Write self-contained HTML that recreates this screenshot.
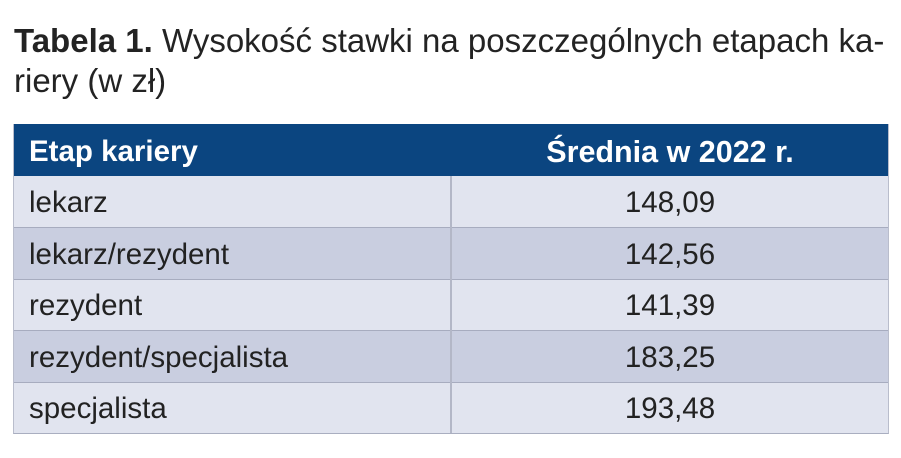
<!DOCTYPE html>
<html>
<head>
<meta charset="utf-8">
<style>
  html, body { margin:0; padding:0; background:#ffffff; }
  body { width:901px; height:458px; position:relative; overflow:hidden; font-family:"Liberation Sans", sans-serif; color:#222; }
  .title { position:absolute; left:14px; top:21px; width:885px; font-size:33px; line-height:40px; color:#232323; white-space:nowrap; }
  .title b { font-weight:bold; }
  .tbl { position:absolute; left:13px; top:124px; width:876px; height:310px; border-left:1px solid #b9bdcc; border-right:1px solid #b9bdcc; border-bottom:1px solid #a9aec0; box-sizing:border-box; }
  .hdr { position:absolute; left:13px; top:124px; width:876px; height:52px; background:#0b4580; }
  .row { position:absolute; left:13px; width:876px; box-sizing:border-box; }
  .c1, .c2 { position:absolute; top:0; height:100%; font-size:29.5px; white-space:nowrap; }
  .c1 { left:16px; }
  .c2 { left:438px; width:438px; text-align:center; }
  .hdr .c1, .hdr .c2 { color:#ffffff; font-weight:bold; line-height:52px; top:2px; }
  .hdr .c2 { font-size:30.5px; }
  .light { background:#e1e4ef; }
  .dark { background:#c9cee0; }
  .row .c1, .row .c2 { line-height:51.6px; top:1px; color:#222222; }
  .hline { position:absolute; left:13px; width:876px; height:1px; background:#a7acbf; }
  .vline { position:absolute; left:450px; top:176px; width:2px; height:258px; background:#b3b7c7; }
</style>
</head>
<body>
  <div class="title"><b>Tabela 1.</b> Wysokość stawki na poszczególnych etapach ka-<br>riery (w zł)</div>

  <div class="hdr"><div class="c1">Etap kariery</div><div class="c2">Średnia w 2022 r.</div></div>

  <div class="row light" style="top:176px;height:51.6px;"><div class="c1">lekarz</div><div class="c2">148,09</div></div>
  <div class="row dark" style="top:227.6px;height:51.6px;"><div class="c1">lekarz/rezydent</div><div class="c2">142,56</div></div>
  <div class="row light" style="top:279.2px;height:51.6px;"><div class="c1">rezydent</div><div class="c2">141,39</div></div>
  <div class="row dark" style="top:330.8px;height:51.6px;"><div class="c1">rezydent/specjalista</div><div class="c2">183,25</div></div>
  <div class="row light" style="top:382.4px;height:51.6px;"><div class="c1">specjalista</div><div class="c2">193,48</div></div>

  <div class="hline" style="top:227px;"></div>
  <div class="hline" style="top:279px;"></div>
  <div class="hline" style="top:330px;"></div>
  <div class="hline" style="top:382px;"></div>
  <div class="hline" style="top:433px;"></div>
  <div class="vline"></div>
  <div class="tbl"></div>
</body>
</html>
